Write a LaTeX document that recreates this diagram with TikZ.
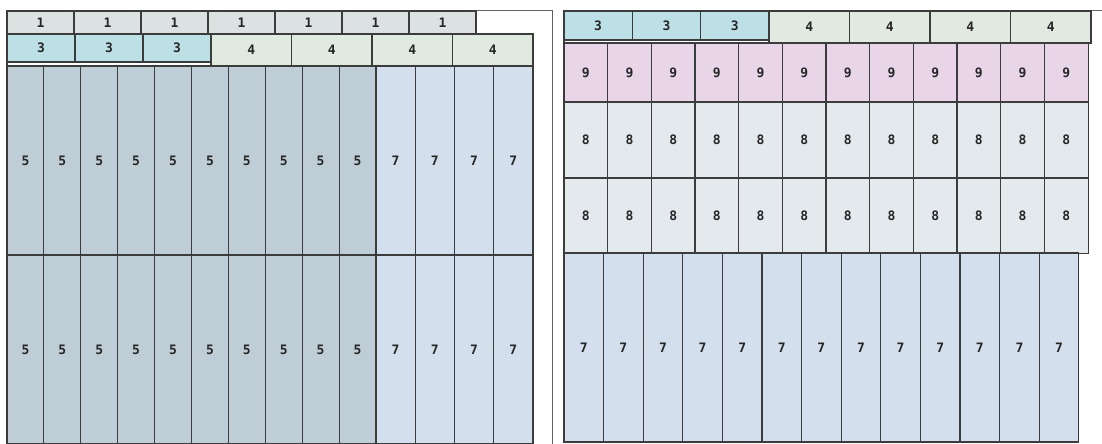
\documentclass[tikz,border=0pt]{standalone}
\usepackage{fontspec}
\newfontfamily\digitfont[BoldFont={DejaVu Sans Mono Bold}]{DejaVu Sans Mono}
\definecolor{cone}{HTML}{DCE2E2}
\definecolor{cthree}{HTML}{BDE0E6}
\definecolor{cfour}{HTML}{E0EAE0}
\definecolor{cfive}{HTML}{BFCDD6}
\definecolor{cseven}{HTML}{D3DFEC}
\definecolor{ceight}{HTML}{E4E9EE}
\definecolor{cnine}{HTML}{E8D5E8}
\definecolor{edge}{HTML}{3C3C3C}
\tikzset{
  cell/.style={draw=edge, line width=1.1pt, inner sep=0pt, outer sep=0pt, anchor=north west,
    font=\digitfont\bfseries\fontsize{13}{13}\selectfont, text=black!85},
  frameline/.style={draw=edge!80, line width=1pt},
}
\begin{document}
\begin{tikzpicture}[x=1pt,y=-1pt]
\useasboundingbox (0,0) rectangle (1102,444);
% left panel frame
\draw[frameline] (7,11) -- (552,11) -- (552,446);
\draw[frameline] (7,11) -- (7,446);
% left panel row 1
\foreach \i in {0,...,6}
  \node[cell, fill=cone, minimum width=67pt, minimum height=23pt] (la\i) at ({7+67*\i},11) {1};
% left panel row 2: container + 3 boxes
\node[cell, minimum width=204pt, minimum height=32pt] (lc) at (7,34) {};
\foreach \i in {0,1,2}
  \node[cell, fill=cthree, minimum width=68pt, minimum height=28pt] (lb\i) at ({7+68*\i},34) {3};
\foreach \i in {0,...,3}
  \node[cell, fill=cfour, minimum width=80.5pt, minimum height=32pt] (ld\i) at ({211+80.5*\i},34) {4};
% left panel columns
\foreach \r/\y in {0/66,1/255}{
  \foreach \i in {0,...,9}
    \node[cell, fill=cfive, minimum width=36.9pt, minimum height=189pt] (le\r-\i) at ({7+36.9*\i},\y) {5};
  \foreach \i in {0,...,3}
    \node[cell, fill=cseven, minimum width=39.25pt, minimum height=189pt] (lf\r-\i) at ({376+39.25*\i},\y) {7};
}
% right panel
\draw[frameline] (564,11) -- (1102,11);
\node[cell, minimum width=205pt, minimum height=32pt] (rc) at (564,11) {};
\foreach \i in {0,1,2}
  \node[cell, fill=cthree, minimum width=68.3pt, minimum height=29pt] (ra\i) at ({564+68.3*\i},11) {3};
\foreach \i in {0,...,3}
  \node[cell, fill=cfour, minimum width=80.5pt, minimum height=32pt] (rb\i) at ({769+80.5*\i},11) {4};
\foreach \i in {0,...,11}
  \node[cell, fill=cnine, minimum width=43.67pt, minimum height=59pt] (rn\i) at ({564+43.67*\i},43) {9};
\foreach \r/\y in {0/102,1/178}
  \foreach \i in {0,...,11}
    \node[cell, fill=ceight, minimum width=43.67pt, minimum height=75.5pt] (re\r-\i) at ({564+43.67*\i},\y) {8};
\foreach \i in {0,...,12}
  \node[cell, fill=cseven, minimum width=39.6pt, minimum height=189pt] (rs\i) at ({564+39.6*\i},253) {7};
\end{tikzpicture}
\end{document}
